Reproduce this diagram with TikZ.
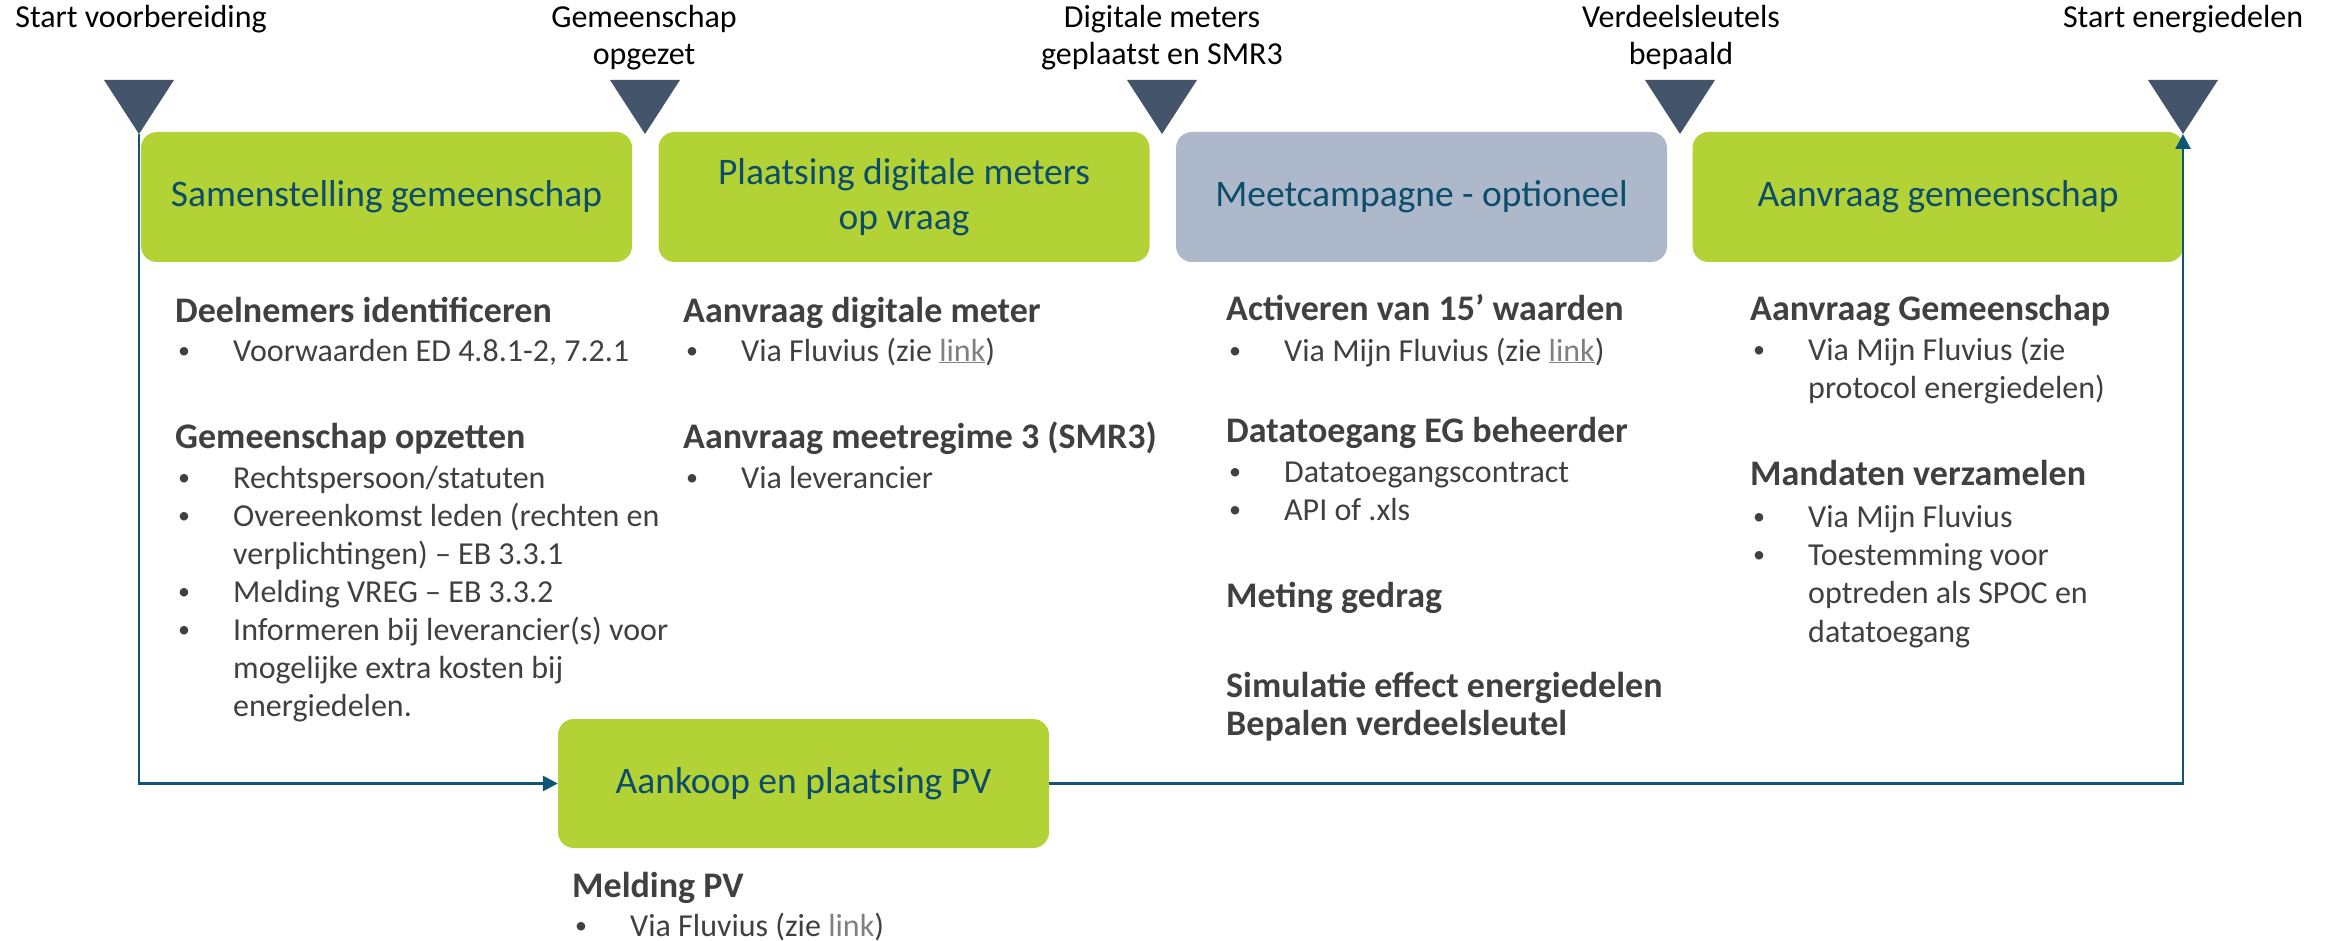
\documentclass[tikz,border=0pt]{standalone}
\usepackage{fontspec}
\setmainfont{Carlito}
\usetikzlibrary{arrows.meta}
\definecolor{tri}{HTML}{44546A}
\definecolor{lime}{HTML}{B3D235}
\definecolor{slate}{HTML}{ADB9CA}
\definecolor{flow}{HTML}{0F5576}
\definecolor{boxtxt}{HTML}{0C4D6B}
\definecolor{bodytxt}{HTML}{404040}
\definecolor{linktxt}{HTML}{808080}
\newcommand\lnk[1]{\textcolor{linktxt}{\underline{#1}}}
\newcommand\lnkplain[1]{\textcolor{linktxt}{#1}}
\newcommand\smallbullet{\raisebox{2.5pt}{\fontsize{24}{24}\selectfont •}}
\begin{document}
\begin{tikzpicture}[x=1pt,y=-1pt,
  phase/.style={rounded corners=16pt, minimum width=491pt, minimum height=130pt, inner sep=0pt, align=center, text=boxtxt, font=\fontsize{37.5}{45}\selectfont},
  limephase/.style={phase, fill=lime},
  slatephase/.style={phase, fill=slate},
  lbl/.style={anchor=base, align=center, inner sep=0pt, text=black, font=\fontsize{32}{37}\selectfont},
  hdr/.style={anchor=base west, inner sep=0pt, text=bodytxt, font=\fontsize{36}{44}\selectfont\bfseries},
  bodyl/.style={anchor=base west, inner sep=0pt, text=bodytxt, font=\fontsize{32}{38}\selectfont},
  flowline/.style={draw=flow, line width=2.8pt, -{Triangle[length=15pt,width=15pt]}}
]
\useasboundingbox (0,0) rectangle (2328,941);
\newcommand\ms[2]{\fill[tri] (#2-35,80) -- (#2+35,80) -- (#2,134) -- cycle; \coordinate (#1) at (#2,134);}
\newcommand\bul[4]{\node[bodyl] (#1b) at (#2+3,#3) {\smallbullet}; \node[bodyl] (#1) at (#2+58,#3) {#4};}
\newcommand\cont[4]{\node[bodyl] (#1) at (#2+58,#3) {#4};}

% phase boxes
\node[limephase] (p1) at (386.5,197) {Samenstelling gemeenschap};
\node[limephase] (p2) at (904,197) {Plaatsing digitale meters\\op vraag};
\node[slatephase] (p3) at (1421.5,197) {Meetcampagne - optioneel};
\node[limephase] (p4) at (1938,197) {Aanvraag gemeenschap};
\node[limephase, minimum height=129pt] (pv) at (803.5,783.5) {Aankoop en plaatsing PV};

% milestones
\ms{a1}{139}
\ms{a2}{645}
\ms{a3}{1162}
\ms{a4}{1680}
\ms{a5}{2183}

\node[lbl] (l1) at (141,28) {Start voorbereiding};
\node[lbl] (l2) at (644,65) {Gemeenschap\\opgezet};
\node[lbl] (l3) at (1162,65) {Digitale meters\\geplaatst en SMR3};
\node[lbl] (l4) at (1681,65) {Verdeelsleutels\\bepaald};
\node[lbl] (l5) at (2183,28) {Start energiedelen};

% flow
\draw[flowline] (a1) |- (pv.west);
\draw[flowline] (pv.east) -| (a5);

% column 1
\node[hdr] (h11) at (175,322) {Deelnemers identificeren};
\bul{c11}{175}{361}{Voorwaarden ED 4.8.1-2, 7.2.1}
\node[hdr] (h12) at (175,448) {Gemeenschap opzetten};
\bul{c12}{175}{488}{Rechtspersoon/statuten}
\bul{c13}{175}{526}{Overeenkomst leden (rechten en}
\cont{c13b}{175}{564}{verplichtingen) – EB 3.3.1}
\bul{c14}{175}{602}{Melding VREG – EB 3.3.2}
\bul{c15}{175}{640}{Informeren bij leverancier(s) voor}
\cont{c15b}{175}{678}{mogelijke extra kosten bij}
\cont{c15c}{175}{716}{energiedelen.}

% column 2
\node[hdr] (h21) at (683,322) {Aanvraag digitale meter};
\bul{c21}{683}{361}{Via Fluvius (zie \lnk{link})}
\node[hdr] (h22) at (683,448) {Aanvraag meetregime 3 (SMR3)};
\bul{c22}{683}{488}{Via leverancier}

% column 3
\node[hdr] (h31) at (1226,320) {Activeren van 15’ waarden};
\bul{c31}{1226}{361}{Via Mijn Fluvius (zie \lnk{link})}
\node[hdr] (h32) at (1226,442) {Datatoegang EG beheerder};
\bul{c32}{1226}{482}{Datatoegangscontract}
\bul{c33}{1226}{520}{API of .xls}
\node[hdr] (h33) at (1226,607) {Meting gedrag};
\node[hdr] (h34) at (1226,697) {Simulatie effect energiedelen};
\node[hdr] (h35) at (1226,735) {Bepalen verdeelsleutel};

% column 4
\node[hdr] (h41) at (1750,320) {Aanvraag Gemeenschap};
\bul{c41}{1750}{360}{Via Mijn Fluvius (zie}
\cont{c41b}{1750}{398}{protocol energiedelen)}
\node[hdr] (h42) at (1750,485) {Mandaten verzamelen};
\bul{c42}{1750}{527}{Via Mijn Fluvius}
\bul{c43}{1750}{565}{Toestemming voor}
\cont{c43b}{1750}{603}{optreden als SPOC en}
\cont{c43c}{1750}{642}{datatoegang}

% PV
\node[hdr] (h51) at (572,897) {Melding PV};
\bul{c51}{572}{936}{Via Fluvius (zie \lnkplain{link})}
\end{tikzpicture}
\end{document}
